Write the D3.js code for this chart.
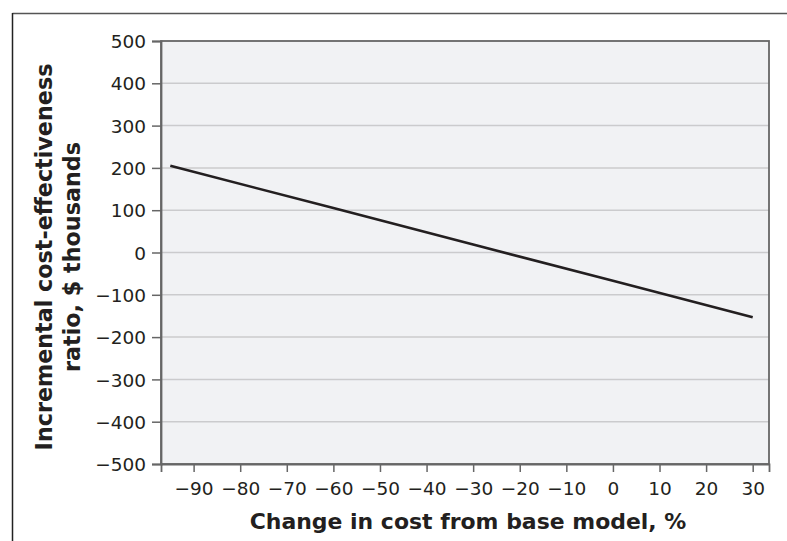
<!DOCTYPE html>
<html><head><meta charset="utf-8">
<script src="https://cdn.jsdelivr.net/npm/d3@7"></script>
<style>
html,body{margin:0;padding:0;background:#fff;}
svg{display:block;font-family:"DejaVu Sans","Open Sans",sans-serif;}
</style></head>
<body>
<svg id="chart" width="787" height="541"></svg>
<script>
// Data
const costChange = [-95, -60, -30, 0, 30];      // % change in cost from base model
const icer = [205, 105, 19, -67, -153];          // $ thousands
const xTicks = [-90, -80, -70, -60, -50, -40, -30, -20, -10, 0, 10, 20, 30];
const yTicks = [500, 400, 300, 200, 100, 0, -100, -200, -300, -400, -500];
const xDomain = [-97, 33.5];
const yDomain = [-500, 500];

(function () {
const svg = d3.select("#chart");
const pLeft = 161, pRight = 769, pTop = 41, pBottom = 464;
const x = d3.scaleLinear().domain(xDomain).range([pLeft, pRight]);
const y = d3.scaleLinear().domain(yDomain).range([pBottom, pTop]);
const minus = v => (v < 0 ? "\u2212" + Math.abs(v) : String(v));
const FONT = "'DejaVu Sans','Open Sans',sans-serif";

// outer frame (top and left)
svg.append("line").attr("x1", 12.5).attr("x2", 787).attr("y1", 13.5).attr("y2", 13.5)
  .attr("stroke", "#555").attr("stroke-width", 1.5);
svg.append("line").attr("x1", 12.5).attr("x2", 12.5).attr("y1", 13).attr("y2", 541)
  .attr("stroke", "#222").attr("stroke-width", 1.5);

// plot background
svg.append("rect").attr("x", pLeft).attr("y", pTop).attr("width", pRight - pLeft).attr("height", pBottom - pTop)
  .attr("fill", "#f1f2f4");

// gridlines
svg.append("g").selectAll("line").data(yTicks.filter(v => v > -500 && v < 500)).join("line")
  .attr("x1", pLeft).attr("x2", pRight).attr("y1", d => y(d)).attr("y2", d => y(d))
  .attr("stroke", "#cbcbcd").attr("stroke-width", 1.5);

// plot border
svg.append("rect").attr("x", pLeft).attr("y", pTop).attr("width", pRight - pLeft).attr("height", pBottom - pTop)
  .attr("fill", "none").attr("stroke", "#666").attr("stroke-width", 1.8);

// y axis
const yAxis = svg.append("g").attr("transform", `translate(${pLeft},0)`)
  .call(d3.axisLeft(y).tickValues(yTicks).tickSize(9).tickPadding(6).tickFormat(minus));
yAxis.select(".domain").attr("stroke", "#666").attr("stroke-width", 1.8);
yAxis.selectAll(".tick line").attr("stroke", "#666").attr("stroke-width", 1.5);
yAxis.selectAll(".tick text").attr("font-size", 18.5).attr("fill", "#231f20")
  .attr("font-family", FONT).attr("dy", "0.36em");

// x axis
const xAxis = svg.append("g").attr("transform", `translate(0,${pBottom})`)
  .call(d3.axisBottom(x).tickValues(xTicks).tickSize(8).tickPadding(10).tickFormat(minus));
xAxis.select(".domain").attr("stroke", "#666").attr("stroke-width", 1.8);
xAxis.selectAll(".tick line").attr("stroke", "#666").attr("stroke-width", 1.5);
xAxis.selectAll(".tick text").attr("font-size", 18.5).attr("fill", "#231f20")
  .attr("font-family", FONT);

// line
const pts = costChange.map((c, i) => [c, icer[i]]);
svg.append("path").datum(pts)
  .attr("d", d3.line().x(d => x(d[0])).y(d => y(d[1])))
  .attr("fill", "none").attr("stroke", "#231f20").attr("stroke-width", 2.6);

// axis titles
const xt = svg.append("text").attr("x", 468).attr("y", 529).attr("text-anchor", "middle")
  .attr("font-size", 20).attr("font-weight", "bold").attr("fill", "#231f20").attr("font-family", FONT)
  .text("Change in cost from base model, %");

const yt = svg.append("text").attr("transform", "translate(0,257) rotate(-90)")
  .attr("text-anchor", "middle").attr("font-size", 20).attr("font-weight", "bold").attr("fill", "#231f20")
  .attr("font-family", FONT);
const l1 = yt.append("tspan").attr("x", 0).attr("y", 52).text("Incremental cost-effectiveness");
yt.append("tspan").attr("x", 0).attr("y", 80).text("ratio, $ thousands");

// fit title font sizes to the reference widths
const fit = (sel, node, target) => {
  const w = node.getComputedTextLength();
  if (w > 0) sel.attr("font-size", 20 * target / w);
};
fit(xt, xt.node(), 437);
fit(yt, l1.node(), 387);
})();
</script>
</body></html>
